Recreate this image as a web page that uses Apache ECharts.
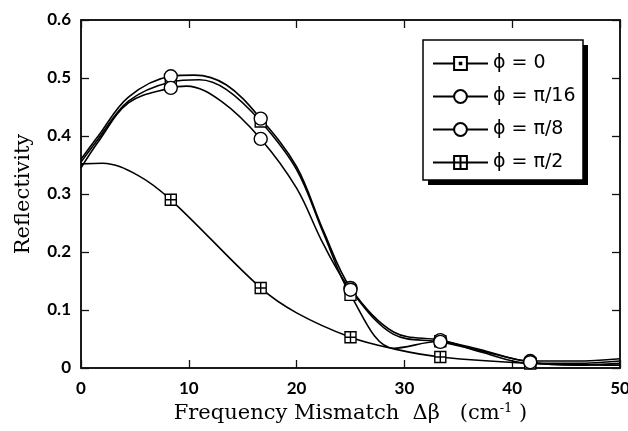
<!DOCTYPE html>
<html><head><meta charset="utf-8">
<script src="https://cdn.jsdelivr.net/npm/echarts@6/dist/echarts.min.js"></script>
<style>html,body{margin:0;padding:0;background:#fff}#c{width:628px;height:431px}</style>
</head><body><div id="c"></div>
<script>
// Marker positions (Δβ, cm^-1)
const markerX = [8.33, 16.67, 25, 33.33, 41.67];
const xTicks = [0, 10, 20, 30, 40, 50];
const yTicks = [0, 0.1, 0.2, 0.3, 0.4, 0.5, 0.6];

// Curves
const phi0X  = [0, 1.6, 4.4, 8.33, 11, 13.5, 16.67, 20, 22.5, 25, 29, 33.33, 37, 41.67, 46, 50];
const phi0Y  = [0.355, 0.395, 0.46, 0.493, 0.497, 0.48, 0.425, 0.342, 0.232, 0.126, 0.034, 0.046, 0.028, 0.008, 0.008, 0.012];

const phi16X = [0, 1.6, 4.4, 8.33, 10.5, 13.5, 16.67, 20, 22.5, 25, 29, 33.33, 37, 41.67, 46, 50];
const phi16Y = [0.36, 0.4, 0.467, 0.503, 0.505, 0.488, 0.43, 0.347, 0.236, 0.138, 0.062, 0.048, 0.032, 0.012, 0.012, 0.016];

const phi8X  = [0, 1.6, 4.4, 8.33, 9.8, 13, 16.67, 20, 22.5, 25, 29, 33.33, 37, 41.67, 46, 50];
const phi8Y  = [0.345, 0.39, 0.457, 0.483, 0.486, 0.46, 0.395, 0.31, 0.213, 0.135, 0.058, 0.045, 0.03, 0.01, 0.005, 0.008];

const phi2X  = [0, 2, 5.2, 8.33, 16.67, 20, 25, 29, 33.33, 41.67, 50];
const phi2Y  = [0.352, 0.353, 0.333, 0.29, 0.138, 0.095, 0.053, 0.033, 0.019, 0.008, 0.005];

const names = ['\u03D5 = 0', '\u03D5 = \u03C0/16', '\u03D5 = \u03C0/8', '\u03D5 = \u03C0/2'];

const SQ_DOT = 'path://M0,0H10V10H0Z M4.4,4.4H5.6V5.6H4.4Z';
const SQ_CROSS = 'path://M0,0H10V10H0Z M5,0V10 M0,5H10';

function build(xs, ys) {
  return xs.map((x, i) => {
    const item = { value: [x, ys[i]] };
    if (!markerX.includes(x)) item.symbol = 'none';
    return item;
  });
}

function series(name, xs, ys, symbol, size) {
  return {
    name, type: 'line', smooth: 0.35, data: build(xs, ys),
    symbol, symbolSize: size, showAllSymbol: true,
    lineStyle: { color: '#000', width: 1.6 },
    itemStyle: { color: '#fff', borderColor: '#000', borderWidth: 1.4 },
    emphasis: { disabled: true }, z: 2
  };
}

const chart = echarts.init(document.getElementById('c'), null, { renderer: 'canvas' });
const tickFont = { fontFamily: 'Lato', fontSize: 17, color: '#000', fontWeight: 'bold' };
const lineS = () => ({ show: true, onZero: false, lineStyle: { color: '#111', width: 1.5 } });
const tickS = () => ({ show: true, inside: true, length: 8, lineStyle: { color: '#111', width: 1.3 } });

chart.setOption({
  animation: false,
  backgroundColor: '#fff',
  grid: { left: 81, right: 8, top: 20, bottom: 63, outerBoundsMode: 'none', containLabel: false,
          show: true, borderColor: '#000', borderWidth: 1.5, backgroundColor: 'transparent' },
  graphic: [
    { type: 'rect', z: 3, shape: { x: 428, y: 45, width: 160, height: 140 }, style: { fill: '#000' } },
    { type: 'rect', z: 3, shape: { x: 423, y: 40, width: 160, height: 140 }, style: { fill: '#fff', stroke: '#000', lineWidth: 1.5 } }
  ],
  legend: {
    z: 5,
    orient: 'vertical', left: 432, top: 54,
    padding: 0, itemGap: 14, itemWidth: 55, itemHeight: 16,
    textStyle: { fontFamily: 'DejaVu Sans', fontSize: 19, color: '#000' },
    data: names
  },
  xAxis: [{
    type: 'value', min: 0, max: 50, interval: 10,
    axisLine: lineS(), axisTick: tickS(),
    splitLine: { show: false },
    axisLabel: Object.assign({ margin: 12 }, tickFont),
    name: 'Frequency Mismatch  \u0394\u03B2   (cm{sup|-1} )', nameLocation: 'middle', nameGap: 27,
    nameTextStyle: { fontFamily: 'DejaVu Serif', fontSize: 21, color: '#000',
      rich: { sup: { fontFamily: 'DejaVu Serif', fontSize: 13, verticalAlign: 'top', padding: [0, 0, 10, 0] } } }
  }, {
    type: 'value', position: 'top', min: 0, max: 50, interval: 10,
    axisLine: lineS(), axisTick: tickS(),
    axisLabel: { show: false }, splitLine: { show: false }
  }],
  yAxis: [{
    type: 'value', min: 0, max: 0.6, interval: 0.1,
    axisLine: lineS(), axisTick: tickS(),
    splitLine: { show: false },
    axisLabel: Object.assign({ margin: 10, formatter: v => v === 0 ? '0' : v.toFixed(1) }, tickFont),
    name: 'Reflectivity', nameLocation: 'middle', nameGap: 47,
    nameTextStyle: { fontFamily: 'DejaVu Serif', fontSize: 21, color: '#000' }
  }, {
    type: 'value', position: 'right', min: 0, max: 0.6, interval: 0.1,
    axisLine: lineS(), axisTick: tickS(),
    axisLabel: { show: false }, splitLine: { show: false }
  }],
  series: [
    series(names[3], phi2X, phi2Y, SQ_CROSS, 11),
    series(names[0], phi0X, phi0Y, SQ_DOT, 11),
    series(names[1], phi16X, phi16Y, 'circle', 13),
    series(names[2], phi8X, phi8Y, 'circle', 13)
  ]
});
</script></body></html>
